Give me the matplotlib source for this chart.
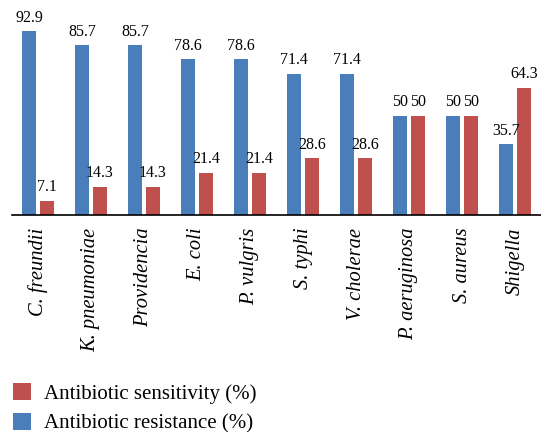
import matplotlib.pyplot as plt
import numpy as np
from matplotlib.patches import Patch

species = ['C. freundii', 'K. pneumoniae', 'Providencia', 'E. coli', 'P. vulgris',
           'S. typhi', 'V. cholerae', 'P. aeruginosa', 'S. aureus', 'Shigella']
resistance = [92.9, 85.7, 85.7, 78.6, 78.6, 71.4, 71.4, 50, 50, 35.7]
sensitivity = [7.1, 14.3, 14.3, 21.4, 21.4, 28.6, 28.6, 50, 50, 64.3]
resistance_labels = ['92.9', '85.7', '85.7', '78.6', '78.6', '71.4', '71.4', '50', '50', '35.7']
sensitivity_labels = ['7.1', '14.3', '14.3', '21.4', '21.4', '28.6', '28.6', '50', '50', '64.3']

blue = '#4A7EBB'
red = '#C0504D'
serif = 'Liberation Serif'

fig = plt.figure(figsize=(5.41, 4.32), dpi=100)
ax = fig.add_axes([12 / 541, 217 / 432, 529 / 541, 198 / 432])

x = np.arange(len(species))
w = 0.264
off = 0.17
b1 = ax.bar(x - off, resistance, w, color=blue, edgecolor='none')
b2 = ax.bar(x + off, sensitivity, w, color=red, edgecolor='none')

for bars, labs in ((b1, resistance_labels), (b2, sensitivity_labels)):
    for b, lab in zip(bars, labs):
        ax.annotate(lab, (b.get_x() + b.get_width() / 2, b.get_height()),
                    xytext=(0, 4), textcoords='offset points',
                    ha='center', va='bottom', fontsize=11.5, family=serif)

ax.set_xlim(-0.49, 9.49)
ax.set_ylim(0, 100)
ax.set_yticks([])
ax.set_xticks(x)
ax.set_xticklabels(species, rotation=90, fontsize=14.8, family=serif,
                   style='italic', va='top')
ax.tick_params(axis='x', length=0, pad=9)
for s in ['top', 'right', 'left']:
    ax.spines[s].set_visible(False)
ax.spines['bottom'].set_linewidth(1.2)

handles = [Patch(facecolor=red, edgecolor='none'), Patch(facecolor=blue, edgecolor='none')]
fig.legend(handles, ['Antibiotic sensitivity (%)', 'Antibiotic resistance (%)'],
           loc='upper left', bbox_to_anchor=(13 / 541, 1 - 383 / 432),
           frameon=False, borderpad=0, borderaxespad=0,
           prop={'family': serif, 'size': 15},
           handlelength=0.85, handleheight=0.85, handletextpad=0.65, labelspacing=0.45)

fig.savefig('out.png', dpi=100)
